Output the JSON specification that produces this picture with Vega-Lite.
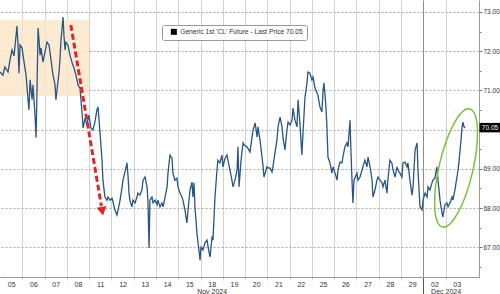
{
 "$schema": "https://vega.github.io/schema/vega-lite/v6.json",
 "width": 479, "height": 277,
 "autosize": {"type": "none"},
 "padding": {"left": 0, "top": 0, "right": 21, "bottom": 17},
 "background": "white",
 "config": {"view": {"stroke": null}, "font": "Liberation Sans"},
 "encoding": {
  "x": {"field": "t", "type": "quantitative", "scale": {"domain": [0, 21.5], "nice": false, "zero": false},
   "axis": {"title": null, "values": [0.5,1,1.5,2,2.5,3,3.5,4,4.5,5,5.5,6,6.5,7,7.5,8,8.5,9,9.5,10,10.5,11,11.5,12,12.5,13,13.5,14,14.5,15,15.5,16,16.5,17,17.5,18,18.5,19,19.5,20,20.5],
    "labelExpr": "datum.value % 1 != 0 ? (floor(datum.value) == 9 ? ['18','Nov 2024'] : ['05','06','07','08','11','12','13','14','15','18','19','20','21','22','25','26','27','28','29','02','03'][floor(datum.value)]) : (datum.value == 20 ? ['', 'Dec 2024'] : '')",
    "grid": true,
    "gridColor": {"condition": {"test": "datum.value == 19", "value": "#8c8c8c"}, "value": "#d2d2d2"},
    "gridOpacity": {"condition": {"test": "datum.value % 1 == 0", "value": 1}, "value": 0},
    "tickOpacity": {"condition": {"test": "datum.value % 1 == 0", "value": 1}, "value": 0},
    "tickColor": {"condition": {"test": "datum.value == 19", "value": "#555555"}, "value": "#d2d2d2"},
    "tickSize": {"condition": {"test": "datum.value == 19", "value": 17}, "value": 3},
    "labelFontSize": 7, "labelColor": "#333333", "labelPadding": 0, "labelOverlap": false, "labelBound": false, "labelFlush": false,
    "labelAngle": 0, "labelAlign": "center", "labelBaseline": "top", "labelLineHeight": 7.5,
    "domainColor": "#9a9a9a"}},
  "y": {"field": "p", "type": "quantitative", "scale": {"domain": [66.24, 73.306], "nice": false, "zero": false},
   "axis": {"title": null, "orient": "right", "values": [66.5,67,67.5,68,68.5,69,69.5,70,70.5,71,71.5,72,72.5,73],
    "labelExpr": "datum.value % 1 == 0 && datum.value != 70 ? format(datum.value, '.2f') : ''",
    "grid": true, "gridDash": [2, 2], "gridColor": "#a8a8a8",
    "gridOpacity": {"condition": {"test": "datum.value % 1 == 0", "value": 1}, "value": 0},
    "tickSize": {"condition": {"test": "datum.value % 1 == 0", "value": 3}, "value": 2},
    "tickColor": "#777777", "domainColor": "#9a9a9a",
    "labelFontSize": 6.5, "labelColor": "#333333", "labelPadding": 1}}
 },
 "layer": [
  {"data": {"values": [{"t": 0, "t2": 4.0, "p": 70.86, "p2": 72.8}]},
   "mark": {"type": "rect", "fill": "#fde6cb", "opacity": 0.85},
   "encoding": {"x2": {"field": "t2"}, "y2": {"field": "p2"}}},
  {"data": {"values": [
{"t":0.00,"p":71.47},{"t":0.13,"p":71.39},{"t":0.22,"p":71.60},{"t":0.36,"p":71.47},{"t":0.45,"p":71.78},{"t":0.54,"p":72.03},{"t":0.63,"p":71.88},{"t":0.72,"p":72.39},{"t":0.76,"p":72.64},{"t":0.81,"p":72.16},
{"t":0.85,"p":71.44},{"t":0.90,"p":72.16},{"t":0.99,"p":72.08},{"t":1.08,"p":71.72},{"t":1.17,"p":71.39},{"t":1.21,"p":71.09},{"t":1.30,"p":70.50},{"t":1.35,"p":71.27},{"t":1.44,"p":70.76},{"t":1.48,"p":71.14},
{"t":1.57,"p":70.37},{"t":1.62,"p":69.79},{"t":1.66,"p":71.01},{"t":1.71,"p":72.59},{"t":1.80,"p":71.90},{"t":1.84,"p":72.08},{"t":1.93,"p":71.72},{"t":2.02,"p":71.98},{"t":2.11,"p":72.23},{"t":2.20,"p":72.16},
{"t":2.29,"p":71.78},{"t":2.38,"p":71.39},{"t":2.47,"p":71.14},{"t":2.51,"p":70.76},{"t":2.56,"p":71.01},{"t":2.65,"p":71.47},{"t":2.69,"p":71.78},{"t":2.74,"p":72.29},{"t":2.78,"p":72.54},{"t":2.83,"p":72.87},
{"t":2.87,"p":72.41},{"t":2.92,"p":72.03},{"t":2.96,"p":72.23},{"t":3.05,"p":72.16},{"t":3.14,"p":71.90},{"t":3.23,"p":71.72},{"t":3.32,"p":71.57},{"t":3.41,"p":71.39},{"t":3.50,"p":71.14},{"t":3.59,"p":71.06},
{"t":3.68,"p":70.45},{"t":3.73,"p":70.04},{"t":3.82,"p":70.30},{"t":3.90,"p":70.12},{"t":3.99,"p":70.37},{"t":4.08,"p":70.04},{"t":4.17,"p":69.99},{"t":4.26,"p":70.19},{"t":4.35,"p":70.50},{"t":4.40,"p":70.58},
{"t":4.49,"p":69.91},{"t":4.58,"p":69.22},{"t":4.62,"p":68.71},{"t":4.71,"p":68.28},{"t":4.80,"p":68.20},{"t":4.85,"p":68.28},{"t":4.94,"p":68.20},{"t":5.03,"p":68.25},{"t":5.16,"p":67.95},{"t":5.25,"p":67.82},
{"t":5.30,"p":67.95},{"t":5.39,"p":68.20},{"t":5.48,"p":68.54},{"t":5.52,"p":68.71},{"t":5.61,"p":68.92},{"t":5.70,"p":69.15},{"t":5.75,"p":68.79},{"t":5.79,"p":68.38},{"t":5.83,"p":68.20},{"t":5.92,"p":68.03},
{"t":5.97,"p":68.20},{"t":6.06,"p":68.13},{"t":6.15,"p":68.28},{"t":6.19,"p":68.38},{"t":6.28,"p":68.33},{"t":6.37,"p":68.46},{"t":6.42,"p":68.71},{"t":6.51,"p":68.79},{"t":6.60,"p":68.54},{"t":6.64,"p":68.20},
{"t":6.69,"p":66.98},{"t":6.73,"p":68.20},{"t":6.82,"p":68.28},{"t":6.87,"p":68.13},{"t":6.96,"p":68.20},{"t":7.05,"p":68.08},{"t":7.09,"p":68.20},{"t":7.18,"p":68.03},{"t":7.27,"p":68.13},{"t":7.32,"p":68.03},
{"t":7.41,"p":68.28},{"t":7.50,"p":68.54},{"t":7.54,"p":68.89},{"t":7.63,"p":69.35},{"t":7.72,"p":69.27},{"t":7.76,"p":68.89},{"t":7.85,"p":68.71},{"t":7.94,"p":68.76},{"t":7.99,"p":68.54},{"t":8.08,"p":68.38},
{"t":8.17,"p":68.28},{"t":8.21,"p":68.20},{"t":8.30,"p":67.95},{"t":8.39,"p":67.62},{"t":8.44,"p":67.95},{"t":8.53,"p":68.46},{"t":8.62,"p":68.66},{"t":8.66,"p":68.28},{"t":8.71,"p":68.64},{"t":8.75,"p":68.03},
{"t":8.84,"p":67.36},{"t":8.89,"p":67.11},{"t":8.98,"p":66.67},{"t":9.02,"p":67.00},{"t":9.11,"p":66.93},{"t":9.20,"p":67.11},{"t":9.29,"p":67.18},{"t":9.38,"p":66.88},{"t":9.43,"p":66.75},{"t":9.52,"p":67.28},
{"t":9.56,"p":67.18},{"t":9.65,"p":68.28},{"t":9.74,"p":68.97},{"t":9.78,"p":69.22},{"t":9.87,"p":69.15},{"t":9.96,"p":69.35},{"t":10.01,"p":69.05},{"t":10.10,"p":69.27},{"t":10.19,"p":69.35},{"t":10.23,"p":69.22},
{"t":10.32,"p":68.97},{"t":10.41,"p":68.71},{"t":10.46,"p":68.54},{"t":10.55,"p":68.71},{"t":10.64,"p":68.97},{"t":10.68,"p":69.56},{"t":10.73,"p":68.54},{"t":10.82,"p":69.22},{"t":10.91,"p":69.66},{"t":10.95,"p":69.61},
{"t":11.09,"p":69.56},{"t":11.22,"p":69.43},{"t":11.36,"p":69.99},{"t":11.45,"p":70.17},{"t":11.54,"p":69.81},{"t":11.58,"p":70.07},{"t":11.67,"p":69.73},{"t":11.76,"p":69.30},{"t":11.80,"p":69.10},{"t":11.85,"p":68.79},
{"t":11.98,"p":69.05},{"t":12.03,"p":69.02},{"t":12.12,"p":69.02},{"t":12.21,"p":68.92},{"t":12.25,"p":69.05},{"t":12.34,"p":69.40},{"t":12.43,"p":69.73},{"t":12.48,"p":70.07},{"t":12.57,"p":70.32},{"t":12.66,"p":70.07},
{"t":12.70,"p":69.81},{"t":12.79,"p":69.48},{"t":12.88,"p":69.99},{"t":12.93,"p":70.19},{"t":13.02,"p":70.12},{"t":13.11,"p":70.24},{"t":13.15,"p":70.55},{"t":13.24,"p":70.24},{"t":13.33,"p":70.07},{"t":13.38,"p":70.76},
{"t":13.46,"p":70.17},{"t":13.55,"p":69.35},{"t":13.60,"p":69.91},{"t":13.69,"p":70.83},{"t":13.78,"p":71.19},{"t":13.82,"p":71.47},{"t":13.91,"p":71.44},{"t":14.00,"p":71.27},{"t":14.05,"p":71.34},{"t":14.14,"p":71.06},
{"t":14.27,"p":70.88},{"t":14.36,"p":70.58},{"t":14.45,"p":70.45},{"t":14.50,"p":71.01},{"t":14.54,"p":71.19},{"t":14.63,"p":70.58},{"t":14.68,"p":69.99},{"t":14.72,"p":69.30},{"t":14.81,"p":69.15},{"t":14.90,"p":68.89},
{"t":14.95,"p":69.05},{"t":15.04,"p":68.89},{"t":15.13,"p":68.71},{"t":15.17,"p":68.97},{"t":15.26,"p":69.17},{"t":15.35,"p":69.15},{"t":15.39,"p":69.30},{"t":15.48,"p":69.56},{"t":15.57,"p":69.66},{"t":15.62,"p":69.56},
{"t":15.71,"p":70.24},{"t":15.75,"p":69.48},{"t":15.80,"p":68.71},{"t":15.84,"p":68.13},{"t":15.89,"p":68.71},{"t":16.02,"p":68.89},{"t":16.07,"p":68.71},{"t":16.16,"p":68.79},{"t":16.25,"p":68.97},{"t":16.29,"p":69.05},
{"t":16.38,"p":69.22},{"t":16.47,"p":69.05},{"t":16.52,"p":69.30},{"t":16.61,"p":69.05},{"t":16.70,"p":68.71},{"t":16.74,"p":68.28},{"t":16.83,"p":68.46},{"t":16.92,"p":68.71},{"t":16.97,"p":68.79},{"t":17.06,"p":68.71},
{"t":17.15,"p":68.64},{"t":17.19,"p":68.54},{"t":17.28,"p":68.71},{"t":17.37,"p":68.38},{"t":17.41,"p":68.71},{"t":17.50,"p":69.22},{"t":17.59,"p":69.15},{"t":17.64,"p":68.97},{"t":17.73,"p":68.79},{"t":17.82,"p":69.05},
{"t":17.86,"p":68.97},{"t":17.95,"p":68.89},{"t":18.04,"p":68.79},{"t":18.09,"p":69.15},{"t":18.18,"p":69.17},{"t":18.27,"p":69.05},{"t":18.31,"p":69.15},{"t":18.40,"p":68.71},{"t":18.49,"p":68.33},{"t":18.54,"p":68.54},
{"t":18.63,"p":69.48},{"t":18.72,"p":69.66},{"t":18.76,"p":68.97},{"t":18.81,"p":68.46},{"t":18.85,"p":68.03},{"t":18.94,"p":67.95},{"t":18.99,"p":68.20},{"t":19.08,"p":68.38},{"t":19.17,"p":68.28},{"t":19.21,"p":68.54},
{"t":19.30,"p":68.46},{"t":19.39,"p":68.64},{"t":19.43,"p":68.71},{"t":19.52,"p":68.76},{"t":19.61,"p":69.05},{"t":19.66,"p":68.71},{"t":19.75,"p":68.20},{"t":19.84,"p":67.87},{"t":19.88,"p":67.77},{"t":19.93,"p":67.95},
{"t":19.97,"p":68.08},{"t":20.06,"p":68.13},{"t":20.11,"p":68.03},{"t":20.20,"p":68.13},{"t":20.29,"p":68.28},{"t":20.33,"p":68.20},{"t":20.42,"p":68.46},{"t":20.51,"p":68.79},{"t":20.56,"p":68.97},{"t":20.60,"p":69.17},
{"t":20.65,"p":69.48},{"t":20.69,"p":69.73},{"t":20.74,"p":70.07},{"t":20.78,"p":70.19},{"t":20.83,"p":70.07},{"t":20.87,"p":70.04}
  ]},
   "mark": {"type": "line", "strokeWidth": 1.3},
   "encoding": {"color": {"datum": "Generic 1st 'CL' Future - Last Price 70.05", "type": "nominal",
     "scale": {"range": ["#2a5582"]},
     "legend": {"title": null, "orient": "none", "legendX": 162, "legendY": 25, "symbolType": "square", "symbolFillColor": "#000000", "symbolStrokeColor": "#000000", "symbolSize": 36, "symbolStrokeWidth": 0, "symbolOffset": 5, "labelOffset": 3, "labelFontSize": 6.7, "labelColor": "#333333", "labelLimit": 300, "padding": 3.5, "fillColor": "#ffffff", "strokeColor": "#9a9a9a", "cornerRadius": 2}}}},
  {"data": {"values": [{"t": 3.18, "p": 72.67}, {"t": 4.55, "p": 68.05}]},
   "mark": {"type": "line", "color": "#d7282f", "strokeWidth": 3, "strokeDash": [6, 3]}, "encoding": {}},
  {"data": {"values": [{"t": 4.59, "p": 67.92}]},
   "mark": {"type": "point", "shape": "triangle-down", "filled": true, "color": "#d7282f", "size": 100, "angle": 350, "opacity": 1}, "encoding": {}},
  {"data": {"values": [{"t": 20.47, "p": 69.02}]},
   "mark": {"type": "point", "shape": "M 0 -1 A 0.28 1 0 1 1 0 1 A 0.28 1 0 1 1 0 -1 Z", "filled": false, "color": "#7cc142", "strokeWidth": 1.5, "size": 14690, "angle": 13, "opacity": 1}, "encoding": {}},
  {"data": {"values": [{"t": 21.5, "p": 70.05, "lab": "70.05"}]},
   "mark": {"type": "point", "shape": "M -1 -0.45 L 1 -0.45 L 1 0.45 L -1 0.45 Z", "filled": true, "color": "#000000", "size": 441, "xOffset": 11, "opacity": 1}, "encoding": {}},
  {"data": {"values": [{"t": 21.5, "p": 70.05, "lab": "70.05"}]},
   "mark": {"type": "text", "color": "#ffffff", "fontSize": 6.5, "xOffset": 11, "align": "center", "baseline": "middle"},
   "encoding": {"text": {"field": "lab"}}}
 ]
}
